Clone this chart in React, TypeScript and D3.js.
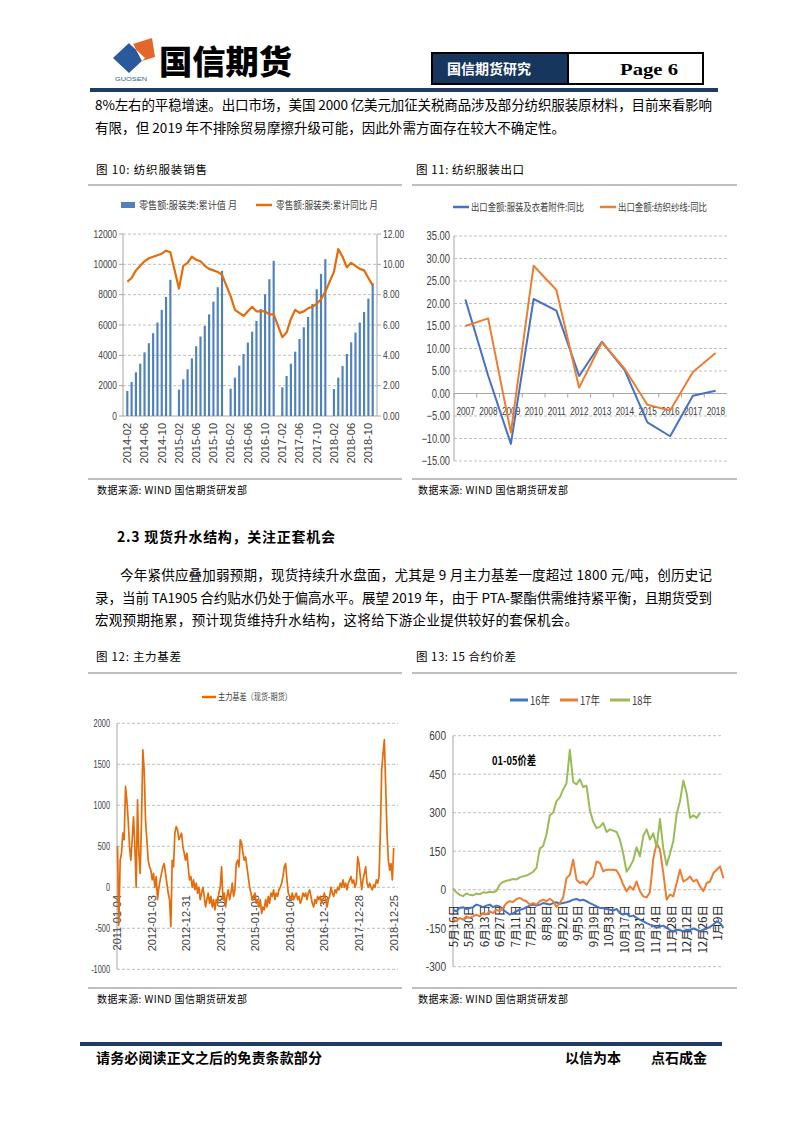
import React from "react";
import * as d3 from "d3";

const CJK = '"Noto Sans CJK SC", "Noto Sans", sans-serif';
const NARROW = '"Liberation Sans Narrow", "Liberation Sans", Arial, sans-serif';
const SANS = '"Liberation Sans", Arial, sans-serif';
const SERIF = '"Liberation Serif", "DejaVu Serif", serif';

const BLUE_BAR = "#4F81BD";
const ORANGE = "#E46C0A";
const BLUE_LINE = "#4472C4";
const ORANGE2 = "#ED7D31";
const GREEN = "#9BBB59";
const GRID = "#BFBFBF";
const AXIS = "#A6A6A6";
const NAVY = "#17365D";
const TXT = "#404040";

// ---------- Figure 10: retail sales of apparel ----------
const retailCum2014 = [1650, 2240, 2880, 3450, 4200, 4800, 5460, 6160, 7000, 7850, 8980];
const retailCum2015 = [1740, 2420, 3080, 3800, 4600, 5240, 5940, 6700, 7540, 8490, 9570];
const retailCum2016 = [1800, 2530, 3320, 4090, 4840, 5560, 6270, 7060, 8030, 9020, 10230];
const retailCum2017 = [1890, 2640, 3450, 4240, 5080, 5850, 6530, 7390, 8360, 9370, 10340];
const retailCum2018 = [1780, 2530, 3300, 4090, 4860, 5500, 6160, 6860, 7740, 8760];
const retailYoY2014 = [8.85, 9.1, 9.6, 9.9, 10.2, 10.4, 10.5, 10.6, 10.7, 10.9, 10.8];
const retailYoY2015 = [8.4, 9.9, 10.1, 10.5, 10.3, 10.2, 9.9, 9.7, 9.6, 9.5, 9.3];
const retailYoY2016 = [7.9, 7.0, 6.8, 6.6, 6.9, 7.2, 6.9, 6.9, 6.9, 6.7, 6.7];
const retailYoY2017 = [5.2, 5.5, 6.4, 7.0, 6.8, 6.9, 7.1, 7.2, 7.4, 7.7, 8.2];
const retailYoY2018 = [9.5, 11.0, 10.5, 9.8, 10.1, 9.9, 9.7, 9.6, 9.1, 8.6];
const retailLeftTicks = [0, 2000, 4000, 6000, 8000, 10000, 12000];
const retailRightTicks = [0, 2, 4, 6, 8, 10, 12];

// ---------- Figure 11: exports ----------
const exportYears = ["2007", "2008", "2009", "2010", "2011", "2012", "2013", "2014", "2015", "2016", "2017", "2018"];
const apparelYoY = [20.9, 4.0, -11.2, 21.0, 18.4, 3.9, 11.5, 5.2, -6.4, -9.5, -0.5, 0.6];
const yarnYoY = [15.0, 16.7, -8.7, 28.4, 23.0, 1.3, 11.4, 5.5, -2.5, -3.8, 4.8, 9.0];
const exportTicks = [-15, -10, -5, 0, 5, 10, 15, 20, 25, 30, 35];

// ---------- Figure 12: main basis ----------
const basisValues = [
  500, -450, 330, 415, 660, 580, 1230, 1065, 820, 500,
  330, 580, 860, 500, 0, 1065, 415, 170, 820, 1675,
  1430, 820, 580, 330, 250, 210, 90, 170, 0, 130,
  -150, 0, 90, 170, 250, 290, 170, 50, -70, -150,
  -480, 330, 250, 660, 740, 700, 580, 620, 660, 500,
  415, 330, 415, 250, 90, 130, 0, 90, -30, 50,
  -70, 0, -150, -70, 0, -110, -240, -150, -70, -195,
  -110, -240, -150, -275, -150, -195, -70, 0, 250, -150,
  -70, -240, -110, -30, -150, -70, 50, -110, -30, 290,
  330, 250, 580, 540, 415, 330, 370, 250, 130, 0,
  -70, -150, -110, -70, -195, -150, -240, -150, -320, -240,
  -275, -150, -240, -110, -195, -70, -110, -30, -150, -70,
  -110, -30, 0, 50, 130, 250, 290, 90, -70, -110,
  -150, -70, -150, -110, -70, -150, -110, -195, -150, -70,
  -110, -70, -150, -70, -30, -110, -195, -240, -150, -195,
  -110, -150, -110, -195, -150, -70, -150, -240, -150, -110,
  0, -70, -110, -30, -70, 0, -30, 50, 0, 90,
  0, 50, -30, 50, 90, 130, 50, 90, 0, 50,
  370, 290, 130, -30, 90, 170, 250, 50, 0, 50,
  0, -30, 30, 0, 90, 50, 130, 660, 1430, 1630,
  1800, 1230, 660, 330, 210, 290, 90, 480,
];
const basisTickLabels = ["2011-01-04", "2012-01-03", "2012-12-31", "2014-01-09", "2015-01-08", "2016-01-06", "2016-12-30", "2017-12-28", "2018-12-25"];
const basisTicks = [-1000, -500, 0, 500, 1000, 1500, 2000];

// ---------- Figure 13: 01-05 spread ----------
const spreadDates = [
  "2018-05-16", "2018-05-19", "2018-05-22", "2018-05-25", "2018-05-28", "2018-05-31", "2018-06-03", "2018-06-06", "2018-06-09", "2018-06-12",
  "2018-06-15", "2018-06-18", "2018-06-21", "2018-06-24", "2018-06-27", "2018-06-30", "2018-07-03", "2018-07-06", "2018-07-09", "2018-07-12",
  "2018-07-15", "2018-07-18", "2018-07-21", "2018-07-24", "2018-07-27", "2018-07-30", "2018-08-02", "2018-08-05", "2018-08-08", "2018-08-11",
  "2018-08-14", "2018-08-17", "2018-08-20", "2018-08-23", "2018-08-26", "2018-08-29", "2018-09-01", "2018-09-04", "2018-09-07", "2018-09-10",
  "2018-09-13", "2018-09-16", "2018-09-19", "2018-09-22", "2018-09-25", "2018-09-28", "2018-10-01", "2018-10-04", "2018-10-07", "2018-10-10",
  "2018-10-13", "2018-10-16", "2018-10-19", "2018-10-22", "2018-10-25", "2018-10-28", "2018-10-31", "2018-11-03", "2018-11-06", "2018-11-09",
  "2018-11-12", "2018-11-15", "2018-11-18", "2018-11-21", "2018-11-24", "2018-11-27", "2018-11-30", "2018-12-03", "2018-12-06", "2018-12-09",
  "2018-12-12", "2018-12-15", "2018-12-18", "2018-12-21", "2018-12-24", "2018-12-27", "2018-12-30", "2019-01-02", "2019-01-05", "2019-01-08",
  "2019-01-11", "2019-01-14",
];
const spread16 = [
  -78, -84, -71, -68, -75, -71, -68, -58, -62, -68,
  -62, -58, -68, -62, -65, -78, -88, -97, -91, -84,
  -78, -75, -68, -62, -58, -62, -58, -52, -55, -58,
  -52, -49, -55, -52, -49, -45, -39, -36, -42, -39,
  -45, -52, -58, -65, -71, -71, -75, -78, -81, -75,
  -91, -97, -94, -104, -101, -110, -117, -123, -130, -136,
  -140, -149, -143, -140, -149, -158, -162, -156, -158, -162,
  -156, -158, -151, -156, -162, -156, -151, -145, -136, -123,
  -130, -149,
];
const spread17 = [
  -117, -123, -110, -117, -104, -110, -104, -97, -104, -91,
  -97, -84, -91, -78, -84, -71, -52, -45, -48, -36,
  -32, -40, -45, -58, -52, -58, -45, -39, -45, -35,
  -45, -67, -52, -30, 45, 58, 117, 39, 26, 32,
  19, 39, 52, 110, 104, 71, 78, 78, 78, 75,
  52, 19, -6, 13, 0, 32, -6, -26, -30, -10,
  120, 182, 156, 65, -39, -19, -26, 26, 78, 32,
  39, 52, 32, 39, 13, -6, 26, 32, 65, 78,
  91, 45,
];
const spread18: (number | null)[] = [
  5, -10, -20, -25, -15, -20, -22, -15, -18, -10,
  -12, -8, -10, -5, 20, 30, 35, 38, 42, 40,
  48, 52, 55, 62, 70, 85, 160, 170, 215, 290,
  300, 345, 360, 390, 415, 545, 420, 410, 430, 400,
  405, 310, 265, 240, 245, 260, 225, 235, 230, 225,
  195, 140, 70, 90, 115, 165, 130, 210, 235, 195,
  220, 165, 275, 160, 95, 140, 190, 295, 345, 425,
  375, 280, 290, 280, 300, null, null, null, null, null,
  null, null,
];
const spreadTickDates = ["2018-05-16", "2018-05-30", "2018-06-13", "2018-06-27", "2018-07-11", "2018-07-25", "2018-08-08", "2018-08-22", "2018-09-05", "2018-09-19", "2018-10-03", "2018-10-17", "2018-10-31", "2018-11-14", "2018-11-28", "2018-12-12", "2018-12-26", "2019-01-09"];
const spreadTickLabels = ["5月16日", "5月30日", "6月13日", "6月27日", "7月11日", "7月25日", "8月8日", "8月22日", "9月5日", "9月19日", "10月3日", "10月17日", "10月31日", "11月14日", "11月28日", "12月12日", "12月26日", "1月9日"];
const spreadTicks = [-300, -150, 0, 150, 300, 450, 600];

const parseDate = d3.timeParse("%Y-%m-%d");

// width of a condensed numeric label, used to squeeze the glyphs like the original narrow face
function numLen(s: string, digit: number) {
  let w = 0;
  for (const ch of s) w += ch === "." ? digit * 0.5 : ch === "-" ? digit * 0.6 : digit;
  return w;
}

function T(props: any) {
  const { children, ...rest } = props;
  return <text fontFamily={CJK} fill="#000" {...rest}>{children}</text>;
}

function N(props: any) {
  const { children, digit, ...rest } = props;
  return (
    <text fontFamily={NARROW} fill={TXT} textLength={numLen(String(children), digit)} lengthAdjust="spacingAndGlyphs" {...rest}>
      {children}
    </text>
  );
}

function Header() {
  return (
    <g>
      <polygon points="113,58 129,43 145,58 129,73" fill="#2A5A9B" />
      <polygon points="133,44 152,38 155,57 142,61" fill="#E3662A" />
      <polygon points="129,43 133,44 142,61 145,58" fill="#fff" />
      <text x={115} y={81} fontSize={5.5} fontFamily={SANS} fill="#2A5A9B" textLength={32} lengthAdjust="spacingAndGlyphs">GUOSEN</text>
      <T x={159} y={74} fontSize={33} fontWeight={900} textLength={133} lengthAdjust="spacingAndGlyphs">国信期货</T>
      <rect x={432} y={53} width={136} height={31} fill={NAVY} />
      <rect x={432} y={53} width={271} height={31} fill="none" stroke="#000" strokeWidth={2} />
      <line x1={568} y1={53} x2={568} y2={84} stroke="#000" strokeWidth={2} />
      <T x={447} y={74} fill="#fff" fontSize={14} fontWeight={700} textLength={84}>国信期货研究</T>
      <text x={620} y={75} fontSize={16} fontWeight={700} fontFamily={SERIF} textLength={58} lengthAdjust="spacingAndGlyphs">Page  6</text>
      <rect x={90} y={88} width={628} height={4} fill="#1F3D63" />
    </g>
  );
}

function BodyText() {
  return (
    <g fontSize={13.5}>
      <T x={95} y={110} textLength={617}>8%左右的平稳增速。出口市场，美国 2000 亿美元加征关税商品涉及部分纺织服装原材料，目前来看影响</T>
      <T x={95} y={133} textLength={470}>有限，但 2019 年不排除贸易摩擦升级可能，因此外需方面存在较大不确定性。</T>
      <T x={117} y={542} fontWeight={700} fontSize={14} textLength={218}>2.3 现货升水结构，关注正套机会</T>
      <T x={120} y={580} textLength={592}>今年紧供应叠加弱预期，现货持续升水盘面，尤其是 9 月主力基差一度超过 1800 元/吨，创历史记</T>
      <T x={95} y={603} textLength={617}>录，当前 TA1905 合约贴水仍处于偏高水平。展望 2019 年，由于 PTA-聚酯供需维持紧平衡，且期货受到</T>
      <T x={95} y={625} textLength={483}>宏观预期拖累，预计现货维持升水结构，这将给下游企业提供较好的套保机会。</T>

      <T x={96} y={174} fontSize={11.5} textLength={111}>图 10: 纺织服装销售</T>
      <T x={416} y={174} fontSize={11.5} textLength={108}>图 11: 纺织服装出口</T>
      <line x1={88} y1={185} x2={402} y2={185} stroke="#808080" strokeWidth={1} />
      <line x1={412} y1={185} x2={737} y2={185} stroke="#808080" strokeWidth={1} />
      <line x1={88} y1={479} x2={402} y2={479} stroke="#808080" strokeWidth={1} />
      <line x1={412} y1={479} x2={737} y2={479} stroke="#808080" strokeWidth={1} />
      <T x={97} y={494} fontSize={10} textLength={150}>数据来源: WIND   国信期货研发部</T>
      <T x={418} y={494} fontSize={10} textLength={150}>数据来源: WIND   国信期货研发部</T>

      <T x={96} y={661} fontSize={11.5} textLength={85}>图 12: 主力基差</T>
      <T x={416} y={661} fontSize={11.5} textLength={100}>图 13: 15 合约价差</T>
      <line x1={88} y1={673} x2={402} y2={673} stroke="#808080" strokeWidth={1} />
      <line x1={412} y1={673} x2={737} y2={673} stroke="#808080" strokeWidth={1} />
      <line x1={88} y1={988} x2={402} y2={988} stroke="#808080" strokeWidth={1} />
      <line x1={412} y1={988} x2={737} y2={988} stroke="#808080" strokeWidth={1} />
      <T x={97} y={1003} fontSize={10} textLength={150}>数据来源: WIND   国信期货研发部</T>
      <T x={418} y={1003} fontSize={10} textLength={150}>数据来源: WIND   国信期货研发部</T>
    </g>
  );
}

function Footer() {
  return (
    <g>
      <rect x={80} y={1042} width={642} height={4} fill="#1F3D63" />
      <T x={96} y={1063} fontSize={14} fontWeight={700} textLength={226}>请务必阅读正文之后的免责条款部分</T>
      <T x={565} y={1063} fontSize={14} fontWeight={700} textLength={56}>以信为本</T>
      <T x={651} y={1063} fontSize={14} fontWeight={700} textLength={56}>点石成金</T>
    </g>
  );
}

function Chart10() {
  const cum: Record<number, number[]> = { 2014: retailCum2014, 2015: retailCum2015, 2016: retailCum2016, 2017: retailCum2017, 2018: retailCum2018 };
  const yoy: Record<number, number[]> = { 2014: retailYoY2014, 2015: retailYoY2015, 2016: retailYoY2016, 2017: retailYoY2017, 2018: retailYoY2018 };
  const months = d3.timeMonth.range(new Date(2014, 1, 1), new Date(2018, 11, 1));
  const fmt = d3.timeFormat("%Y-%m");
  const rows = months.map((m) => {
    const yr = m.getFullYear();
    const mo = m.getMonth() + 1;
    const c = mo === 1 ? null : cum[yr][mo - 2];
    const r = mo === 1 ? null : yoy[yr][mo - 2];
    return { key: fmt(m), cum: c ?? null, yoy: r ?? null };
  });
  const L = 123, R = 377, TOP = 234, BOT = 416;
  const x = d3.scaleBand().domain(rows.map((r) => r.key)).range([L, R]).paddingInner(0.5).paddingOuter(0.75);
  const yL = d3.scaleLinear().domain([0, 12000]).range([BOT, TOP]);
  const yR = d3.scaleLinear().domain([0, 12]).range([BOT, TOP]);
  const cx = (k: string) => (x(k) as number) + x.bandwidth() / 2;
  const linePts = rows.filter((r) => r.yoy != null);
  const line = d3.line<any>().x((d) => cx(d.key)).y((d) => yR(d.yoy));
  return (
    <g>
      {retailLeftTicks.map((t) => (
        <g key={t}>
          {t > 0 && <line x1={L} x2={R} y1={yL(t)} y2={yL(t)} stroke={GRID} strokeDasharray="3,2" />}
          <line x1={L - 4} x2={L} y1={yL(t)} y2={yL(t)} stroke={AXIS} />
          <line x1={R} x2={R + 4} y1={yL(t)} y2={yL(t)} stroke={AXIS} />
          <N x={117} y={yL(t) + 3.5} textAnchor="end" fontSize={10.5} digit={4.7}>{String(t)}</N>
        </g>
      ))}
      {retailRightTicks.map((t) => (
        <N key={t} x={383} y={yR(t) + 3.5} fontSize={10.5} digit={4.7}>{d3.format(".2f")(t)}</N>
      ))}
      <line x1={L} x2={L} y1={TOP} y2={BOT} stroke={AXIS} />
      <line x1={R} x2={R} y1={TOP} y2={BOT} stroke={AXIS} />
      <line x1={L} x2={R} y1={BOT} y2={BOT} stroke={AXIS} />
      {rows.filter((r) => r.cum != null).map((r) => (
        <rect key={r.key} x={x(r.key)} y={yL(r.cum as number)} width={x.bandwidth()} height={BOT - yL(r.cum as number)} fill={BLUE_BAR} />
      ))}
      <path d={line(linePts) as string} fill="none" stroke={ORANGE} strokeWidth={2.2} strokeLinejoin="round" />
      {rows.filter((_, i) => i % 4 === 0).map((r) => (
        <text key={r.key} transform={`translate(${cx(r.key) + 3.8},${423}) rotate(-90)`} textAnchor="end" fontSize={11} fontFamily={SANS} fill={TXT}>{r.key}</text>
      ))}
      <rect x={121} y={202} width={14} height={6} fill={BLUE_BAR} />
      <T x={139} y={209} fontSize={10} fill={TXT} textLength={98} lengthAdjust="spacingAndGlyphs">零售额:服装类:累计值 月</T>
      <line x1={256} x2={272} y1={205} y2={205} stroke={ORANGE} strokeWidth={2.5} />
      <T x={276} y={209} fontSize={10} fill={TXT} textLength={102} lengthAdjust="spacingAndGlyphs">零售额:服装类:累计同比 月</T>
    </g>
  );
}

function Chart11() {
  const L = 454, R = 727, TOP = 236, BOT = 461;
  const x = d3.scaleBand().domain(exportYears).range([L, R]);
  const y = d3.scaleLinear().domain([-15, 35]).range([BOT, TOP]);
  const cx = (k: string) => (x(k) as number) + x.bandwidth() / 2;
  const line = d3.line<number>().x((_, i) => cx(exportYears[i])).y((d) => y(d));
  return (
    <g>
      {exportTicks.map((t) => (
        <g key={t}>
          {t !== 0 && <line x1={L} x2={R} y1={y(t)} y2={y(t)} stroke={GRID} strokeDasharray="3,2" />}
          <N x={450} y={y(t) + 4} textAnchor="end" fontSize={12} digit={5.2}>{d3.format(".2f")(t)}</N>
        </g>
      ))}
      <line x1={L} x2={L} y1={TOP} y2={BOT} stroke={AXIS} />
      <line x1={L} x2={R} y1={y(0)} y2={y(0)} stroke={AXIS} />
      {exportYears.map((k) => (
        <line key={k} x1={x(k) as number} x2={x(k) as number} y1={y(0)} y2={y(0) + 4} stroke={AXIS} />
      ))}
      {exportYears.map((k) => (
        <N key={k} x={cx(k) - 9} y={y(0) + 21.5} fontSize={10} digit={4.6}>{k}</N>
      ))}
      <path d={line(apparelYoY) as string} fill="none" stroke={BLUE_LINE} strokeWidth={2} strokeLinejoin="round" />
      <path d={line(yarnYoY) as string} fill="none" stroke={ORANGE2} strokeWidth={2} strokeLinejoin="round" />
      <line x1={453} x2={469} y1={207} y2={207} stroke={BLUE_LINE} strokeWidth={2.5} />
      <T x={471} y={211} fontSize={10} fill={TXT} textLength={113} lengthAdjust="spacingAndGlyphs">出口金额:服装及衣着附件:同比</T>
      <line x1={600} x2={616} y1={207} y2={207} stroke={ORANGE2} strokeWidth={2.5} />
      <T x={618} y={211} fontSize={10} fill={TXT} textLength={89} lengthAdjust="spacingAndGlyphs">出口金额:纺织纱线:同比</T>
    </g>
  );
}

function Chart12() {
  const L = 117, R = 398, TOP = 723.3, BOT = 969.3;
  const n = basisValues.length;
  const x = d3.scaleLinear().domain([0, n - 1]).range([117.5, 393.7]);
  const y = d3.scaleLinear().domain([-1000, 2000]).range([BOT, TOP]);
  const line = d3.line<number>().x((_, i) => x(i)).y((d) => y(d));
  return (
    <g>
      {basisTicks.map((t) => (
        <g key={t}>
          <line x1={L} x2={R} y1={y(t)} y2={y(t)} stroke={GRID} strokeDasharray="3,2" />
          <N x={110} y={y(t) + 4} textAnchor="end" fontSize={11.5} digit={4.1}>{String(t)}</N>
        </g>
      ))}
      <line x1={L} x2={L} y1={TOP} y2={BOT} stroke={AXIS} />
      {basisTickLabels.map((lab, k) => (
        <text key={lab} transform={`translate(${x((k * (n - 1)) / 8) + 3.8},${895}) rotate(-90)`} textAnchor="end" fontSize={11} fontFamily={SANS} fill={TXT}>{lab}</text>
      ))}
      <path d={line(basisValues) as string} fill="none" stroke={ORANGE} strokeWidth={1.7} strokeLinejoin="round" />
      <line x1={202} x2={216} y1={697} y2={697} stroke={ORANGE} strokeWidth={2.5} />
      <T x={218} y={700} fontSize={9} fill={TXT} textLength={74} lengthAdjust="spacingAndGlyphs">主力基差（现货-期货）</T>
    </g>
  );
}

function Chart13() {
  const L = 453, R = 723, TOP = 735.7, BOT = 966.7;
  const dates = spreadDates.map((s) => parseDate(s) as Date);
  const x = d3.scaleTime().domain([parseDate("2018-05-16") as Date, parseDate("2019-01-14") as Date]).range([L, 723.4]);
  const y = d3.scaleLinear().domain([-300, 600]).range([BOT, TOP]);
  const line = d3.line<number | null>().defined((d) => d != null).x((_, i) => x(dates[i])).y((d) => y(d as number));
  return (
    <g>
      {spreadTicks.map((t) => (
        <g key={t}>
          <line x1={L} x2={R} y1={y(t)} y2={y(t)} stroke={GRID} strokeDasharray="3,2" />
          <N x={446} y={y(t) + 4.5} textAnchor="end" fontSize={12.5} digit={5.6}>{String(t)}</N>
        </g>
      ))}
      <line x1={L} x2={L} y1={TOP} y2={BOT} stroke={AXIS} />
      {spreadTickDates.map((s, i) => (
        <T key={s} transform={`translate(${x(parseDate(s) as Date) + 4.5},${905}) rotate(-90)`} textAnchor="end" fontSize={11.5} fill="#262626">{spreadTickLabels[i]}</T>
      ))}
      <path d={line(spread16) as string} fill="none" stroke={BLUE_LINE} strokeWidth={2} strokeLinejoin="round" />
      <path d={line(spread17) as string} fill="none" stroke={ORANGE2} strokeWidth={2} strokeLinejoin="round" />
      <path d={line(spread18) as string} fill="none" stroke={GREEN} strokeWidth={2} strokeLinejoin="round" />
      <T x={492} y={765} fontSize={12} fontWeight={700} textLength={44} lengthAdjust="spacingAndGlyphs">01-05价差</T>
      <line x1={510} x2={528} y1={700} y2={700} stroke={BLUE_LINE} strokeWidth={3} />
      <T x={530} y={705} fontSize={12} fill={TXT} textLength={20} lengthAdjust="spacingAndGlyphs">16年</T>
      <line x1={560} x2={578} y1={700} y2={700} stroke={ORANGE2} strokeWidth={3} />
      <T x={580} y={705} fontSize={12} fill={TXT} textLength={20} lengthAdjust="spacingAndGlyphs">17年</T>
      <line x1={610} x2={630} y1={700} y2={700} stroke={GREEN} strokeWidth={3} />
      <T x={632} y={705} fontSize={12} fill={TXT} textLength={20} lengthAdjust="spacingAndGlyphs">18年</T>
    </g>
  );
}

export default function App() {
  return (
    <svg width={802} height={1133} viewBox="0 0 802 1133" style={{ position: "absolute", left: 0, top: 0, background: "#fff" }}>
      <rect x={0} y={0} width={802} height={1133} fill="#fff" />
      <Header />
      <BodyText />
      <Chart10 />
      <Chart11 />
      <Chart12 />
      <Chart13 />
      <Footer />
    </svg>
  );
}
